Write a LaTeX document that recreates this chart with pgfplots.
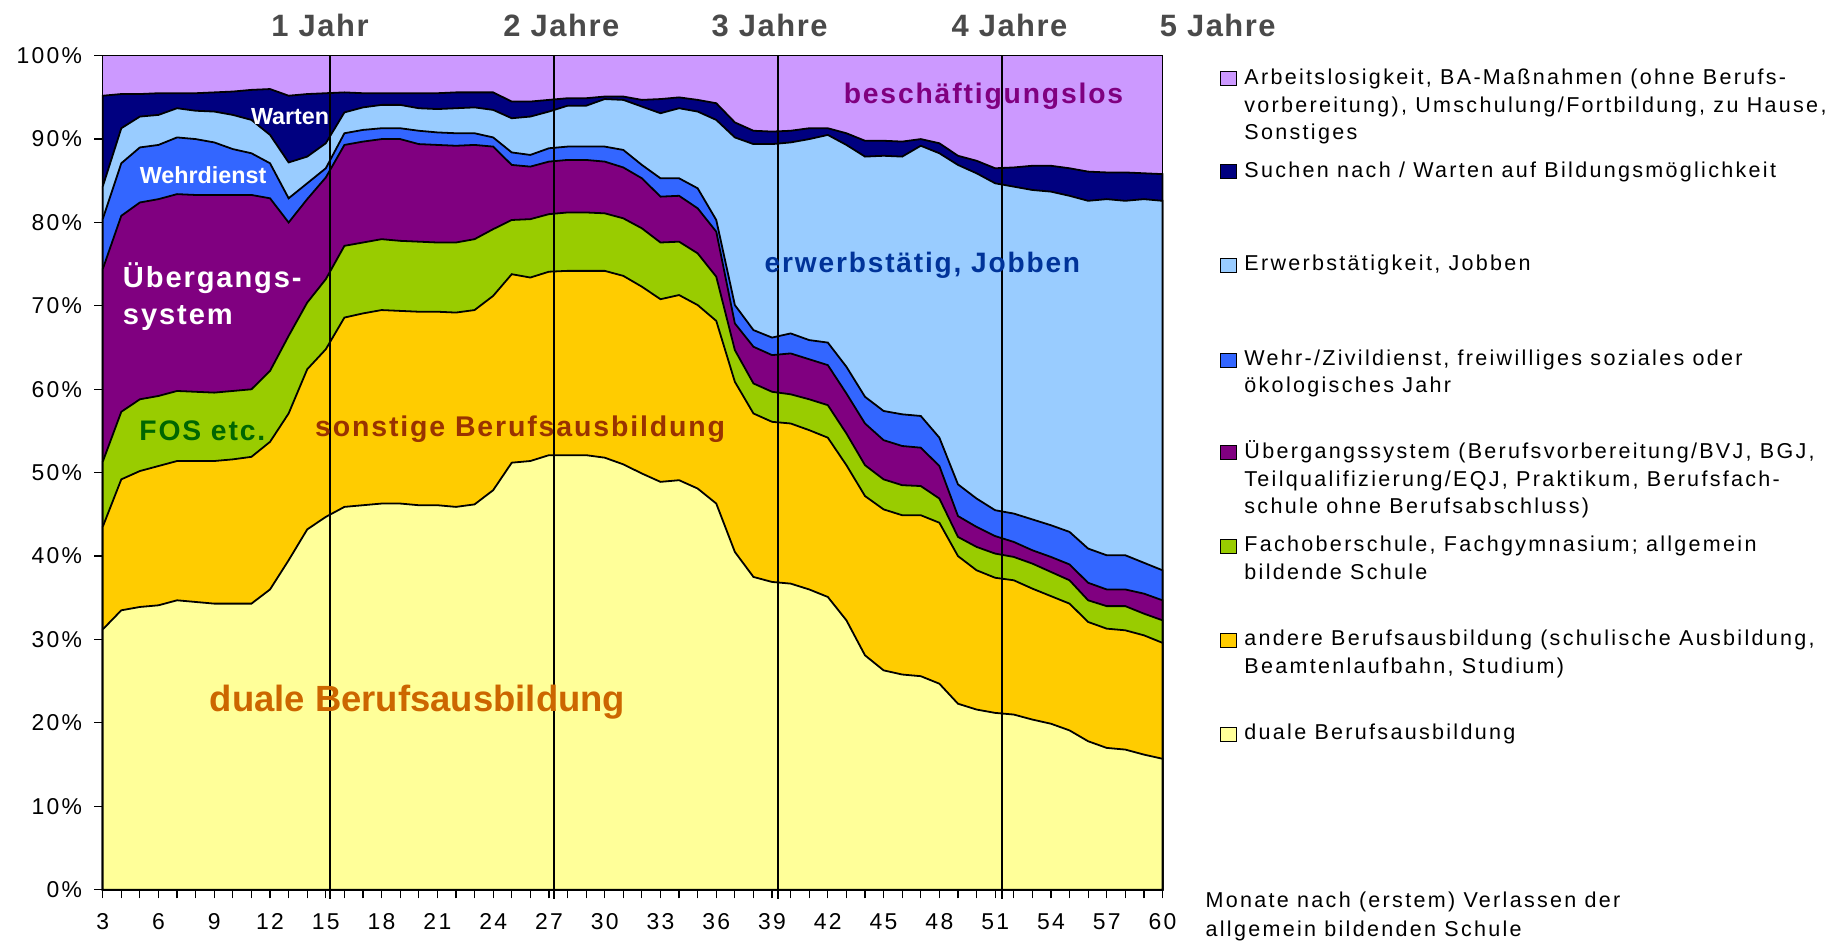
\documentclass[border=0pt]{standalone}
\usepackage{pgfplots}
\pgfplotsset{compat=1.18}
\usepackage{pgfplotstable}
\usepackage{fontspec}
\setmainfont{Liberation Sans}
\newfontfamily\tickfont[LetterSpace=10]{Liberation Sans}
\newfontfamily\legfont[LetterSpace=10.7]{Liberation Sans}
\newfontfamily\labfont[LetterSpace=6.5]{Liberation Sans}
\newfontfamily\topfont[LetterSpace=5]{Liberation Sans}
\newfontfamily\plainfont{Liberation Sans}

\definecolor{cLav}{HTML}{CC99FF}
\definecolor{cNavy}{HTML}{000080}
\definecolor{cLBlue}{HTML}{99CCFF}
\definecolor{cBlue}{HTML}{3366FF}
\definecolor{cPurp}{HTML}{800080}
\definecolor{cGreen}{HTML}{99CC00}
\definecolor{cOrange}{HTML}{FFCC00}
\definecolor{cYellow}{HTML}{FFFF99}
\definecolor{tGreen}{HTML}{006600}
\definecolor{tBrown}{HTML}{993300}
\definecolor{tOrange}{HTML}{CC6600}
\definecolor{tBlue}{HTML}{003399}
\definecolor{tGray}{HTML}{4A4A4A}

% cumulative upper boundaries (percent) of the stacked shares
% C1 duale, C2 +andere, C3 +FOS, C4 +Uebergang, C5 +Wehrdienst, C6 +Erwerb, C7 +Warten
\pgfplotstableread{
m C1 C2 C3 C4 C5 C6 C7
3 31.2 43.5 51.3 74.4 80.4 84.3 95.2
4 33.5 49.2 57.3 80.8 87.1 91.3 95.4
5 33.9 50.2 58.8 82.4 89.0 92.7 95.4
6 34.1 50.8 59.2 82.8 89.3 92.9 95.5
7 34.7 51.4 59.8 83.4 90.2 93.7 95.5
8 34.5 51.4 59.7 83.3 90.0 93.4 95.5
9 34.3 51.4 59.6 83.3 89.6 93.3 95.6
10 34.3 51.6 59.8 83.3 88.8 92.9 95.7
11 34.3 51.9 60.0 83.3 88.3 92.3 95.9
12 36.0 53.7 62.2 82.9 87.1 90.5 96.0
13 39.5 57.1 66.4 80.0 82.9 87.2 95.2
14 43.2 62.4 70.4 82.8 84.7 87.9 95.4
15 44.7 64.8 73.2 85.4 86.5 89.5 95.5
16 45.9 68.6 77.2 89.3 90.7 93.2 95.6
17 46.1 69.1 77.6 89.7 91.1 93.8 95.5
18 46.3 69.5 78.0 90.0 91.3 94.1 95.5
19 46.3 69.4 77.8 90.0 91.3 94.1 95.5
20 46.1 69.3 77.7 89.4 91.0 93.7 95.5
21 46.1 69.3 77.6 89.3 90.8 93.6 95.5
22 45.9 69.2 77.6 89.2 90.7 93.7 95.6
23 46.2 69.5 78.0 89.3 90.7 93.8 95.6
24 47.9 71.2 79.2 89.1 90.2 93.5 95.6
25 51.2 73.8 80.3 86.9 88.4 92.5 94.5
26 51.4 73.4 80.4 86.7 88.1 92.7 94.5
27 52.1 74.1 81.0 87.3 88.9 93.3 94.7
28 52.1 74.2 81.2 87.5 89.1 94.0 94.9
29 52.1 74.2 81.2 87.5 89.1 94.0 94.9
30 51.8 74.2 81.1 87.3 89.1 94.8 95.1
31 51.0 73.6 80.5 86.6 88.7 94.7 95.1
32 49.9 72.3 79.3 85.3 86.9 93.9 94.7
33 48.9 70.8 77.6 83.1 85.3 93.1 94.8
34 49.1 71.3 77.7 83.2 85.3 93.7 95.0
35 48.1 70.1 76.3 81.7 84.1 93.3 94.7
36 46.3 68.2 73.5 78.9 80.3 92.3 94.3
37 40.5 60.9 64.7 67.9 70.1 90.2 92.0
38 37.5 57.1 60.7 65.1 67.1 89.4 91.0
39 36.9 56.1 59.7 64.1 66.2 89.4 90.9
40 36.7 55.9 59.4 64.3 66.7 89.6 91.0
41 36.0 55.1 58.8 63.6 65.9 90.0 91.3
42 35.1 54.2 58.1 62.9 65.6 90.5 91.3
43 32.3 50.9 54.7 59.5 62.7 89.3 90.7
44 28.1 47.2 50.9 55.9 59.1 87.9 89.8
45 26.3 45.6 49.2 53.9 57.4 88.0 89.8
46 25.8 44.9 48.5 53.2 57.0 87.9 89.7
47 25.6 44.9 48.4 53.0 56.8 89.2 90.0
48 24.7 44.0 46.9 50.8 54.2 88.3 89.5
49 22.3 40.0 42.3 44.8 48.6 86.9 88.0
50 21.6 38.3 41.1 43.5 46.9 85.9 87.4
51 21.2 37.4 40.3 42.4 45.5 84.7 86.5
52 21.0 37.1 39.9 41.7 45.1 84.3 86.6
53 20.4 36.1 39.1 40.7 44.4 83.9 86.8
54 19.9 35.2 38.1 39.9 43.7 83.7 86.8
55 19.1 34.3 37.1 39.0 42.9 83.2 86.5
56 17.8 32.1 34.7 36.8 40.9 82.6 86.1
57 17.0 31.3 34.0 36.0 40.1 82.8 86.0
58 16.8 31.1 34.0 36.0 40.1 82.6 86.0
59 16.2 30.5 33.1 35.5 39.2 82.8 85.9
60 15.7 29.6 32.3 34.7 38.3 82.6 85.8
}\shares

\begin{document}
\begin{tikzpicture}
\path[use as bounding box] (0,0) rectangle (917bp,471bp);
\begin{axis}[
  at={(51.35bp,26.15bp)}, anchor=south west,
  width=529.9bp, height=417bp, scale only axis,
  xmin=3, xmax=60, ymin=0, ymax=100,
  clip=false,
  axis on top,
  axis background/.style={fill=cLav},
  axis line style={black, line width=0.8pt},
  xtick={3,6,...,60}, minor x tick num=2,
  ytick={0,10,...,100},
  xtick pos=bottom, ytick pos=left,
  tick align=outside,
  major tick length=4.3pt, minor tick length=4.3pt,
  every tick/.style={black, line width=0.6pt},
  /pgf/number format/assume math mode=true,
  yticklabel={\pgfmathprintnumber{\tick}\%},
  ticklabel style={font=\tickfont\fontsize{11.5}{13}\selectfont},
  yticklabel style={xshift=-2.5pt},
  xticklabel style={yshift=-4.3pt},
]
\addplot[fill=cNavy, draw=black, line width=0.9pt] table[x=m, y=C7] {\shares} \closedcycle;
\addplot[fill=cLBlue, draw=black, line width=0.9pt] table[x=m, y=C6] {\shares} \closedcycle;
\addplot[fill=cBlue, draw=black, line width=0.9pt] table[x=m, y=C5] {\shares} \closedcycle;
\addplot[fill=cPurp, draw=black, line width=0.9pt] table[x=m, y=C4] {\shares} \closedcycle;
\addplot[fill=cGreen, draw=black, line width=0.9pt] table[x=m, y=C3] {\shares} \closedcycle;
\addplot[fill=cOrange, draw=black, line width=0.9pt] table[x=m, y=C2] {\shares} \closedcycle;
\addplot[fill=cYellow, draw=black, line width=0.9pt] table[x=m, y=C1] {\shares} \closedcycle;

\draw[black, line width=0.9pt] (axis cs:15.23,-1.1) -- (axis cs:15.23,100);
\draw[black, line width=0.9pt] (axis cs:27.28,-1.1) -- (axis cs:27.28,100);
\draw[black, line width=0.9pt] (axis cs:39.3,-1.1) -- (axis cs:39.3,100);
\draw[black, line width=0.9pt] (axis cs:51.35,-1.1) -- (axis cs:51.35,100);

% top year labels
\node[anchor=base, inner sep=0, text=tGray, font=\topfont\bfseries\fontsize{15.5}{18}\selectfont] at (axis cs:14.69,102.35) {1 Jahr};
\node[anchor=base, inner sep=0, text=tGray, font=\topfont\bfseries\fontsize{15.5}{18}\selectfont] at (axis cs:27.67,102.35) {2 Jahre};
\node[anchor=base, inner sep=0, text=tGray, font=\topfont\bfseries\fontsize{15.5}{18}\selectfont] at (axis cs:38.87,102.35) {3 Jahre};
\node[anchor=base, inner sep=0, text=tGray, font=\topfont\bfseries\fontsize{15.5}{18}\selectfont] at (axis cs:51.77,102.35) {4 Jahre};
\node[anchor=base, inner sep=0, text=tGray, font=\topfont\bfseries\fontsize{15.5}{18}\selectfont] at (axis cs:62.97,102.35) {5 Jahre};

% in-chart labels
\node[anchor=base, inner sep=0, text=white, font=\plainfont\bfseries\fontsize{11.7}{14}\selectfont] at (axis cs:13.08,91.8) {Warten};
\node[anchor=base, inner sep=0, text=white, font=\plainfont\bfseries\fontsize{11.7}{14}\selectfont] at (axis cs:8.40,84.7) {Wehrdienst};
\node[anchor=base west, inner sep=0, text=white, font=\labfont\bfseries\fontsize{14.6}{16}\selectfont] at (axis cs:4.07,72.23) {Übergangs-};
\node[anchor=base west, inner sep=0, text=white, font=\labfont\bfseries\fontsize{14.6}{16}\selectfont] at (axis cs:4.07,67.71) {system};
\node[anchor=base, inner sep=0, text=tGreen, font=\labfont\bfseries\fontsize{14.2}{16}\selectfont] at (axis cs:8.36,53.84) {FOS etc.};
\node[anchor=base, inner sep=0, text=tBrown, font=\labfont\bfseries\fontsize{14.3}{16}\selectfont] at (axis cs:25.45,54.3) {sonstige Berufsausbildung};
\node[anchor=base, inner sep=0, text=tOrange, font=\plainfont\bfseries\fontsize{18.3}{20}\selectfont] at (axis cs:19.93,21.35) {duale Berufsausbildung};
\node[anchor=base, inner sep=0, text=cPurp, font=\labfont\bfseries\fontsize{14.2}{16}\selectfont] at (axis cs:50.37,94.29) {beschäftigungslos};
\node[anchor=base, inner sep=0, text=tBlue, font=\labfont\bfseries\fontsize{14.1}{16}\selectfont] at (axis cs:47.09,73.98) {erwerbstätig, Jobben};
\end{axis}

% legend
\foreach \yb/\tx in {
  428.85/{Arbeitslosigkeit, BA-Maßnahmen (ohne Berufs-},
  414.65/{vorbereitung), Umschulung/Fortbildung, zu Hause,},
  401.0/{Sonstiges},
  382.35/{Suchen nach / Warten auf Bildungsmöglichkeit},
  335.5/{Erwerbstätigkeit, Jobben},
  288.0/{Wehr-/Zivildienst, freiwilliges soziales oder},
  274.65/{ökologisches Jahr},
  241.85/{Übergangssystem (Berufsvorbereitung/BVJ, BGJ,},
  227.65/{Teilqualifizierung/EQJ, Praktikum, Berufsfach-},
  214.0/{schule ohne Berufsabschluss)},
  195.15/{Fachoberschule, Fachgymnasium; allgemein},
  181.35/{bildende Schule},
  148.15/{andere Berufsausbildung (schulische Ausbildung,},
  134.35/{Beamtenlaufbahn, Studium)},
  101.0/{duale Berufsausbildung}}{
  \node[anchor=base west, inner sep=0, font=\legfont\fontsize{10.8}{13}\selectfont] at (622bp,\yb bp) {\tx};
}
\foreach \yb/\cc in {428.85/cLav, 382.35/cNavy, 335.5/cLBlue, 288.0/cBlue, 241.85/cPurp, 195.15/cGreen, 148.15/cOrange, 101.0/cYellow}{
  \filldraw[fill=\cc, draw=black, line width=0.5pt] (610.4bp,\yb bp-0.8bp) rectangle (618.2bp,\yb bp+6.2bp);
}
\node[anchor=base west, inner sep=0, font=\legfont\fontsize{10.8}{13}\selectfont] at (602.6bp,17.35bp) {Monate nach (erstem) Verlassen der};
\node[anchor=base west, inner sep=0, font=\legfont\fontsize{10.8}{13}\selectfont] at (602.6bp,2.65bp) {allgemein bildenden Schule};
\end{tikzpicture}
\end{document}
